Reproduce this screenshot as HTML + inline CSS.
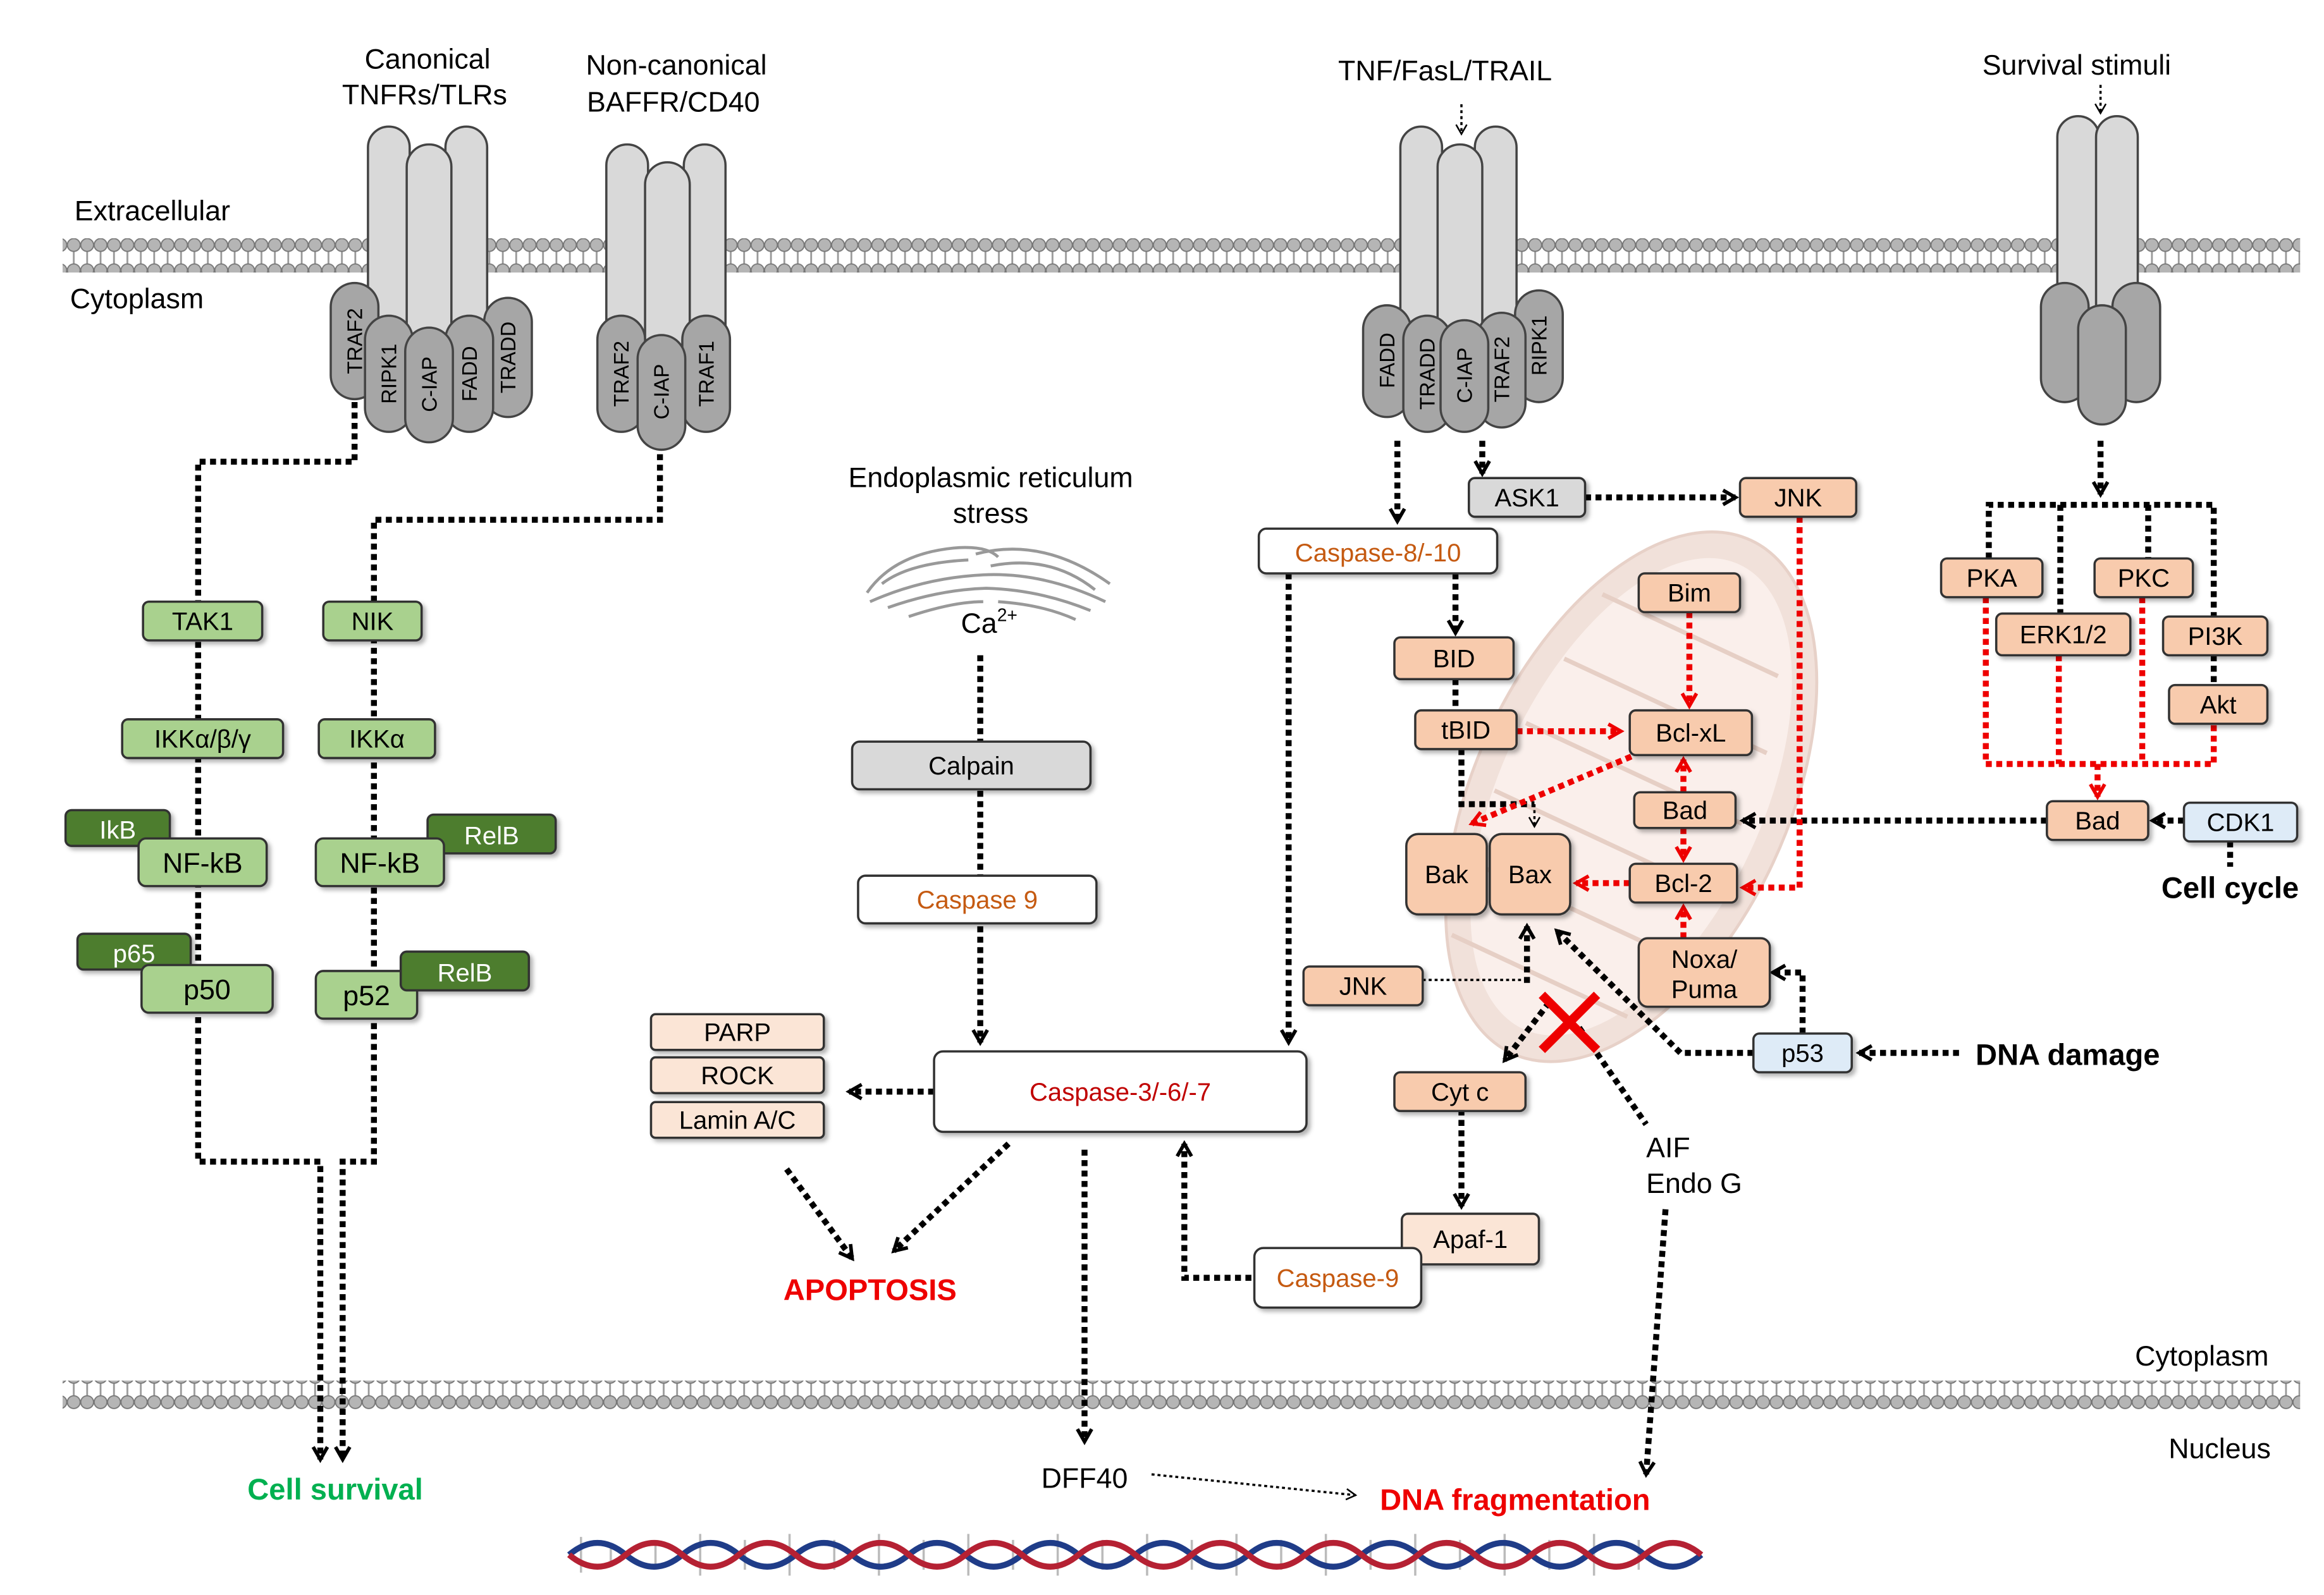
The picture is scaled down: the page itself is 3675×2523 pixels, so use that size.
<!DOCTYPE html>
<html><head><meta charset="utf-8"><style>
html,body{margin:0;padding:0;background:#fff}
svg{display:block}
text{font-family:"Liberation Sans",Arial,sans-serif}
</style></head><body>
<svg width="3675" height="2523" viewBox="0 0 1560 1071" xmlns="http://www.w3.org/2000/svg">
<defs>
<pattern id="mem" x="0" y="0" width="9" height="40" patternUnits="userSpaceOnUse">
<line x1="4.5" y1="5" x2="4.5" y2="21" stroke="#999" stroke-width="1.2"/>
<circle cx="4.5" cy="4.5" r="4.3" fill="#b5b5b5" stroke="#777" stroke-width="0.8"/>
<circle cx="4.5" cy="21.5" r="4.3" fill="#b5b5b5" stroke="#777" stroke-width="0.8"/>
</pattern>
<marker id="ah" viewBox="0 0 10 10" refX="8" refY="5" markerWidth="3" markerHeight="3" orient="auto"><path d="M1,1 L8,5 L1,9" fill="none" stroke="#000" stroke-width="2"/></marker>
<marker id="ahr" viewBox="0 0 10 10" refX="8" refY="5" markerWidth="3" markerHeight="3" orient="auto"><path d="M1,1 L8,5 L1,9" fill="none" stroke="#e00" stroke-width="2"/></marker>
<marker id="ahs" viewBox="0 0 10 10" refX="8" refY="5" markerWidth="6" markerHeight="6" orient="auto"><path d="M1,1 L8,5 L1,9" fill="none" stroke="#000" stroke-width="1.2"/></marker>
<filter id="sh"><feDropShadow dx="2" dy="2" stdDeviation="1.5" flood-color="#000" flood-opacity="0.3"/></filter>
</defs>

<!-- membranes -->
<rect x="42" y="155" width="1502" height="28" fill="url(#mem)"/>
<rect x="42" y="927" width="1502" height="28" fill="url(#mem)"/>

<!-- mitochondrion -->
<g transform="rotate(25 1095 535)">
<ellipse cx="1095" cy="535" rx="105" ry="190" fill="#eedad2" stroke="#e2c6bb" stroke-width="2" opacity="0.8"/>
<ellipse cx="1095" cy="535" rx="88" ry="172" fill="#fbf1ec" opacity="0.9"/>
<g fill="none" stroke="#e6cfc5" stroke-width="3">
<path d="M1020,420 h130 M1015,470 h150 M1010,520 h160 M1010,570 h160 M1015,620 h150 M1025,670 h130"/>
</g>
</g>

<!-- text labels -->
<g font-size="19" fill="#000">
<text x="287" y="46" text-anchor="middle">Canonical</text>
<text x="285" y="70" text-anchor="middle">TNFRs/TLRs</text>
<text x="454" y="50" text-anchor="middle">Non-canonical</text>
<text x="452" y="75" text-anchor="middle">BAFFR/CD40</text>
<text x="970" y="54" text-anchor="middle">TNF/FasL/TRAIL</text>
<text x="1394" y="50" text-anchor="middle">Survival stimuli</text>
<text x="50" y="148">Extracellular</text>
<text x="47" y="207">Cytoplasm</text>
<text x="665" y="327" text-anchor="middle">Endoplasmic reticulum</text>
<text x="665" y="351" text-anchor="middle">stress</text>
<text x="645" y="425">Ca<tspan font-size="12" dy="-8">2+</tspan></text>
<text x="1478" y="917" text-anchor="middle">Cytoplasm</text>
<text x="1490" y="979" text-anchor="middle">Nucleus</text>
<text x="728" y="999" text-anchor="middle">DFF40</text>
<text x="1105" y="777">AIF</text>
<text x="1105" y="801">Endo G</text>
</g>
<g font-size="20" font-weight="bold">
<text x="225" y="1007" text-anchor="middle" fill="#00b050">Cell survival</text>
<text x="584" y="873" text-anchor="middle" fill="#e00">APOPTOSIS</text>
<text x="1017" y="1014" text-anchor="middle" fill="#e00">DNA fragmentation</text>
<text x="1497" y="603" text-anchor="middle" fill="#000">Cell cycle</text>
<text x="1388" y="715" text-anchor="middle" fill="#000">DNA damage</text>
</g>

<!-- ER -->
<g fill="none" stroke="#999" stroke-width="2">
<path d="M582,398 Q600,372 640,368 Q662,366 670,374"/>
<path d="M655,372 Q700,360 745,392"/>
<path d="M592,392 Q610,378 650,376"/>
<path d="M665,380 Q705,372 735,396"/>
<path d="M584,404 Q620,388 660,386 Q700,384 742,404"/>
<path d="M596,408 Q630,396 662,395 Q698,396 732,410"/>
<path d="M610,414 Q640,404 660,404"/>
<path d="M670,404 Q700,406 722,416"/>
</g>

<!-- receptors -->
<g stroke="#444" stroke-width="1.5" fill="#d9d9d9">
<rect x="247" y="85" width="28" height="150" rx="14"/><rect x="299" y="85" width="28" height="150" rx="14"/><rect x="273" y="97" width="30" height="150" rx="15"/>
<rect x="407" y="97" width="28" height="150" rx="14"/><rect x="459" y="97" width="28" height="150" rx="14"/><rect x="433" y="109" width="30" height="150" rx="15"/>
<rect x="940" y="85" width="28" height="150" rx="14"/><rect x="990" y="85" width="28" height="150" rx="14"/><rect x="965" y="97" width="30" height="150" rx="15"/>
<rect x="1381" y="78" width="28" height="140" rx="14"/><rect x="1407" y="78" width="28" height="140" rx="14"/>
</g>
<g stroke="#444" stroke-width="1.5" fill="#a6a6a6">
<rect x="222" y="190" width="32" height="78" rx="16"/>
<rect x="325" y="200" width="32" height="80" rx="16"/>
<rect x="299" y="212" width="32" height="78" rx="16"/>
<rect x="245" y="212" width="32" height="78" rx="16"/>
<rect x="272" y="220" width="32" height="77" rx="16"/>
<rect x="401" y="212" width="32" height="78" rx="16"/>
<rect x="458" y="212" width="32" height="78" rx="16"/>
<rect x="428" y="225" width="32" height="77" rx="16"/>
<rect x="915" y="205" width="32" height="75" rx="16"/>
<rect x="1017" y="195" width="32" height="75" rx="16"/>
<rect x="992" y="210" width="32" height="77" rx="16"/>
<rect x="942" y="212" width="32" height="78" rx="16"/>
<rect x="967" y="215" width="32" height="75" rx="16"/>
<rect x="1370" y="190" width="32" height="80" rx="16"/>
<rect x="1418" y="190" width="32" height="80" rx="16"/>
<rect x="1395" y="205" width="32" height="80" rx="16"/>
</g>
<g font-size="14" fill="#000" text-anchor="middle">
<text transform="translate(243 229) rotate(-90)">TRAF2</text>
<text transform="translate(266 251) rotate(-90)">RIPK1</text>
<text transform="translate(293 258) rotate(-90)">C-IAP</text>
<text transform="translate(320 251) rotate(-90)">FADD</text>
<text transform="translate(346 240) rotate(-90)">TRADD</text>
<text transform="translate(422 251) rotate(-90)">TRAF2</text>
<text transform="translate(449 263) rotate(-90)">C-IAP</text>
<text transform="translate(479 251) rotate(-90)">TRAF1</text>
<text transform="translate(936 242) rotate(-90)">FADD</text>
<text transform="translate(963 251) rotate(-90)">TRADD</text>
<text transform="translate(988 252) rotate(-90)">C-IAP</text>
<text transform="translate(1013 248) rotate(-90)">TRAF2</text>
<text transform="translate(1038 232) rotate(-90)">RIPK1</text>
</g>

<!-- black dotted connectors -->
<g fill="none" stroke="#000" stroke-width="4" stroke-dasharray="4 3">
<path d="M238,270 V310 H133 V780 H215 V980" marker-end="url(#ah)"/>
<path d="M443,305 V349 H251 V780 H230 V980" marker-end="url(#ah)"/>
<path d="M658,440 V700" marker-end="url(#ah)"/>
<path d="M627,733 H570" marker-end="url(#ah)"/>
<path d="M528,785 L572,845" marker-end="url(#ah)"/>
<path d="M677,768 L600,840" marker-end="url(#ah)"/>
<path d="M728,772 V968" marker-end="url(#ah)"/>
<path d="M840,858 H795 V768" marker-end="url(#ah)"/>
<path d="M981,745 V810" marker-end="url(#ah)"/>
<path d="M938,296 V350" marker-end="url(#ah)"/>
<path d="M995,296 V318" marker-end="url(#ah)"/>
<path d="M1064,334 H1165" marker-end="url(#ah)"/>
<path d="M865,385 V700" marker-end="url(#ah)"/>
<path d="M977,385 V425" marker-end="url(#ah)"/>
<path d="M977,456 V477"/>
<path d="M981,503 V540 H1030"/>
<path d="M1374,551 H1170" marker-end="url(#ah)"/>
<path d="M1466,551 H1445" marker-end="url(#ah)"/>
<path d="M1497,565 V582"/>
<path d="M1315,707 H1248" marker-end="url(#ah)"/>
<path d="M1210,694 V653 H1190" marker-end="url(#ah)"/>
<path d="M1177,707 H1128 L1045,625" marker-end="url(#ah)"/>
<path d="M1025,660 V622" marker-end="url(#ah)"/>
<path d="M1040,673 L1010,712" marker-end="url(#ah)"/>
<path d="M1060,690 L1105,755"/>
<path d="M1118,812 L1105,990" marker-end="url(#ah)"/>
<path d="M1335,375 V339 H1486 V414"/>
<path d="M1383,339 V412"/><path d="M1442,339 V375"/>
<path d="M1486,440 V460"/>
</g>
<path d="M1410,296 V332" stroke="#000" stroke-width="4" stroke-dasharray="4 3" marker-end="url(#ah)" fill="none"/>
<g fill="none" stroke="#000" stroke-width="1.5" stroke-dasharray="2 2">
<path d="M981,70 V90" marker-end="url(#ahs)"/>
<path d="M1410,57 V76" marker-end="url(#ahs)"/>
<path d="M1030,540 V555" marker-end="url(#ahs)"/>
<path d="M955,658 H1025"/>
<path d="M773,990 L910,1004" marker-end="url(#ahs)"/>
</g>

<!-- red dotted -->
<g fill="none" stroke="#e00" stroke-width="4" stroke-dasharray="4 3">
<path d="M1018,491 H1088" marker-end="url(#ahr)"/>
<path d="M1095,508 L988,553" marker-end="url(#ahr)"/>
<path d="M1134,411 V474" marker-end="url(#ahr)"/>
<path d="M1130,532 V510" marker-end="url(#ahr)"/>
<path d="M1130,556 V577" marker-end="url(#ahr)"/>
<path d="M1094,593 H1058" marker-end="url(#ahr)"/>
<path d="M1130,630 V609" marker-end="url(#ahr)"/>
<path d="M1208,347 V596 H1170" marker-end="url(#ahr)"/>
<path d="M1333,401 V513 H1486 V486"/>
<path d="M1382,440 V513"/><path d="M1438,401 V513"/>
<path d="M1408,513 V535" marker-end="url(#ahr)"/>
</g>

<!-- red X -->
<g stroke="#e00" stroke-width="6"><line x1="1035" y1="668" x2="1072" y2="705"/><line x1="1072" y1="668" x2="1035" y2="705"/></g>

<!-- boxes -->
<g stroke="#333" stroke-width="1.5" filter="url(#sh)">
<g fill="#a9d18e">
<rect x="96" y="404" width="80" height="26" rx="4"/><rect x="217" y="404" width="66" height="26" rx="4"/>
<rect x="82" y="483" width="108" height="26" rx="4"/><rect x="214" y="483" width="78" height="26" rx="4"/>
</g>
<g fill="#4e7d2f">
<rect x="44" y="544" width="70" height="24" rx="4"/><rect x="287" y="547" width="86" height="26" rx="4"/>
</g>
<g fill="#a9d18e"><rect x="93" y="563" width="86" height="32" rx="5"/><rect x="212" y="563" width="86" height="32" rx="5"/></g>
<rect x="52" y="627" width="76" height="24" rx="4" fill="#4e7d2f"/>
<g fill="#a9d18e"><rect x="95" y="648" width="88" height="32" rx="5"/><rect x="212" y="652" width="68" height="32" rx="5"/></g>
<rect x="269" y="639" width="86" height="26" rx="4" fill="#4e7d2f"/>
<rect x="572" y="498" width="160" height="32" rx="5" fill="#d9d9d9"/>
<rect x="576" y="588" width="160" height="32" rx="5" fill="#fff"/>
<rect x="627" y="706" width="250" height="54" rx="6" fill="#fff"/>
<g fill="#fbe5d6"><rect x="437" y="681" width="116" height="24" rx="3"/><rect x="437" y="710" width="116" height="24" rx="3"/><rect x="437" y="740" width="116" height="24" rx="3"/>
<rect x="941" y="815" width="92" height="34" rx="4"/></g>
<rect x="842" y="838" width="112" height="40" rx="6" fill="#fff"/>
<rect x="845" y="355" width="160" height="30" rx="5" fill="#fff"/>
<rect x="986" y="321" width="78" height="26" rx="4" fill="#d9d9d9"/>
<g fill="#f8cbad">
<rect x="1168" y="321" width="78" height="26" rx="4"/>
<rect x="1100" y="385" width="68" height="26" rx="4"/>
<rect x="936" y="428" width="80" height="28" rx="4"/>
<rect x="950" y="477" width="68" height="26" rx="4"/>
<rect x="1094" y="477" width="82" height="30" rx="4"/>
<rect x="1097" y="532" width="68" height="24" rx="4"/>
<rect x="944" y="560" width="54" height="54" rx="8"/>
<rect x="1000" y="560" width="54" height="54" rx="8"/>
<rect x="1094" y="580" width="72" height="26" rx="4"/>
<rect x="1100" y="630" width="88" height="46" rx="6"/>
<rect x="875" y="649" width="80" height="26" rx="4"/>
<rect x="936" y="720" width="88" height="26" rx="4"/>
<rect x="1374" y="538" width="68" height="26" rx="4"/>
<rect x="1303" y="375" width="68" height="26" rx="4"/>
<rect x="1406" y="375" width="66" height="26" rx="4"/>
<rect x="1340" y="412" width="90" height="28" rx="4"/>
<rect x="1452" y="414" width="70" height="26" rx="4"/>
<rect x="1456" y="460" width="66" height="26" rx="4"/>
</g>
<g fill="#deebf7">
<rect x="1177" y="694" width="66" height="26" rx="4"/>
<rect x="1466" y="539" width="76" height="26" rx="4"/>
</g>
</g>

<!-- box labels -->
<g font-size="17" fill="#000" text-anchor="middle">
<text x="136" y="423">TAK1</text><text x="250" y="423">NIK</text>
<text x="136" y="502">IKKα/β/γ</text><text x="253" y="502">IKKα</text>
<text x="79" y="563" fill="#fff">IkB</text><text x="330" y="567" fill="#fff">RelB</text>
<text x="136" y="586" font-size="19">NF-kB</text><text x="255" y="586" font-size="19">NF-kB</text>
<text x="90" y="646" fill="#fff">p65</text>
<text x="139" y="671" font-size="19">p50</text><text x="246" y="675" font-size="19">p52</text>
<text x="312" y="659" fill="#fff">RelB</text>
<text x="652" y="520">Calpain</text>
<text x="656" y="610" fill="#c55a11">Caspase 9</text>
<text x="752" y="739" fill="#c00000">Caspase-3/-6/-7</text>
<text x="495" y="699">PARP</text><text x="495" y="728">ROCK</text><text x="495" y="758">Lamin A/C</text>
<text x="987" y="838">Apaf-1</text>
<text x="898" y="864" fill="#c55a11">Caspase-9</text>
<text x="925" y="377" fill="#c55a11">Caspase-8/-10</text>
<text x="1025" y="340">ASK1</text><text x="1207" y="340">JNK</text>
<text x="1134" y="404">Bim</text><text x="976" y="448">BID</text>
<text x="984" y="496">tBID</text><text x="1135" y="498">Bcl-xL</text>
<text x="1131" y="550">Bad</text>
<text x="971" y="593">Bak</text><text x="1027" y="593">Bax</text>
<text x="1130" y="599">Bcl-2</text>
<text x="1144" y="650">Noxa/</text><text x="1144" y="670">Puma</text>
<text x="915" y="668">JNK</text><text x="980" y="739">Cyt c</text>
<text x="1210" y="713">p53</text>
<text x="1408" y="557">Bad</text><text x="1504" y="558">CDK1</text>
<text x="1337" y="394">PKA</text><text x="1439" y="394">PKC</text>
<text x="1385" y="432">ERK1/2</text><text x="1487" y="433">PI3K</text>
<text x="1489" y="479">Akt</text>
</g>

<!-- DNA -->
<g fill="none" stroke-width="4">
<g stroke="#bbb" stroke-width="1.5">
<path d="M390,1032 V1056 M410,1036 V1052 M440,1034 V1054 M470,1030 V1058 M500,1034 V1054 M530,1030 V1058 M560,1034 V1054 M590,1030 V1058 M620,1034 V1054 M650,1030 V1058 M680,1034 V1054 M710,1030 V1058 M740,1034 V1054 M770,1030 V1058 M800,1034 V1054 M830,1030 V1058 M860,1034 V1054 M890,1030 V1058 M920,1034 V1054 M950,1030 V1058 M980,1034 V1054 M1010,1030 V1058 M1040,1034 V1054 M1070,1030 V1058 M1100,1034 V1054"/>
</g>
<path stroke="#1f3c88" d="M382,1044 q19,-16 38,0 t38,0 t38,0 t38,0 t38,0 t38,0 t38,0 t38,0 t38,0 t38,0 t38,0 t38,0 t38,0 t38,0 t38,0 t38,0 t38,0 t38,0 t38,0 t38,0"/>
<path stroke="#b52133" d="M382,1044 q19,16 38,0 t38,0 t38,0 t38,0 t38,0 t38,0 t38,0 t38,0 t38,0 t38,0 t38,0 t38,0 t38,0 t38,0 t38,0 t38,0 t38,0 t38,0 t38,0 t38,0"/>
</g>
</svg>
</body></html>
